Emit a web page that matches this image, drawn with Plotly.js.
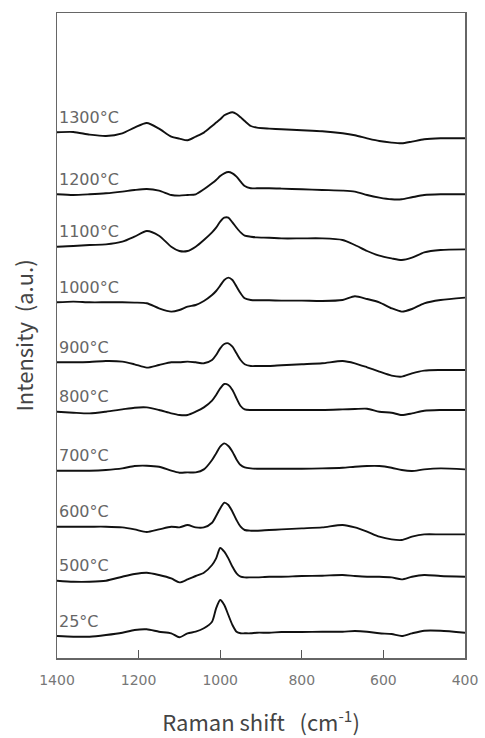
<!DOCTYPE html>
<html>
<head>
<meta charset="utf-8">
<script src="https://cdn.plot.ly/plotly-3.0.1.min.js"></script>
<style>html,body{margin:0;padding:0;background:#fff;}#chart{width:485px;height:738px;}</style>
</head>
<body>
<div id="chart"></div>
<script>
// Raman shift grid (cm-1)
const ramanShift = [1400,1360,1320,1280,1240,1210,1180,1150,1120,1100,1080,1060,1040,1020,1010,1000,990,980,970,960,950,940,925,910,880,850,800,750,700,670,640,610,580,555,530,500,460,400];

// Temperature labels (top to bottom)
const labels = ['1300°C','1200°C','1100°C','1000°C','900°C','800°C','700°C','600°C','500°C','25°C'];

// Vertical offsets of each stacked spectrum (a.u.)
const offsets = [525.7, 463.7, 411.3, 355.7, 295.7, 246.3, 187.3, 131.3, 77.3, 22];

// Intensities relative to each spectrum's baseline (a.u.)
const s1300 = [0,0.3,-2.3,-3.7,-1,4.7,9.3,3.7,-4.3,-6.3,-8,-4.3,-0.3,6.3,9.7,13,17,19,20,18.3,15,11.3,6.3,4.7,3.7,3,2,1,-1,-3,-6,-8.7,-10.3,-11,-9.3,-7,-6,-6];
const s1200 = [0,-0.7,0,1,2.7,4.3,5.3,3.7,-0.7,-1.3,-0.7,0,5,11,14.3,18.3,21,22.3,21,17.7,12.7,8.3,6,6,6,5.7,5,4.3,3.7,2.7,-0.7,-3.3,-5,-5,-3,-0.7,0,0];
const s1100 = [0,0.7,1.7,2.3,5,10,15.7,11,0,-4.3,-4.3,0,6.7,14.3,19,25,29,29,24.3,19,14.3,11,10,9.3,9,8.3,8.3,8.3,6.7,1.7,-4.3,-9,-11.7,-13.3,-11,-5.7,-3.3,-2.7];
const s1000 = [0,0.7,0,0,0,-0.3,-1,-6,-9.3,-7.7,-4.3,-2.7,1.3,7.3,11.3,16.7,22.3,24.7,22.3,15.7,9,4,2.3,2,2,1.7,1.7,1.3,2.3,6,3.3,0,-6,-9.3,-6.7,-1,2.3,4.7];
const s900  = [0,0,0.3,1.3,0.7,-2,-5.3,-2.7,0,0,0.7,0,-1,2.3,7.3,14,18.3,19,15.7,9,2.3,-2,-3.7,-3.7,-3.7,-3,-2,-1,1.3,-1,-5,-9.3,-13.3,-14.3,-11,-8.3,-7.7,-7.7];
const s800  = [0,-1,-1.7,0,2.3,4,4.3,1.7,-1.7,-3.3,-3.3,0,4.3,11,16.7,23.3,27.7,26.7,21.7,13.3,5.7,2.3,1.7,1.7,1.7,1.7,1.7,1.7,2.3,2.7,3,0,-1,-3.3,-1.7,1,1.7,1.7];
const s700  = [0,0,0,0.7,2.3,4.7,5,4,0,-2,-1.7,-1.7,1.3,10.7,17.3,24,27.3,24.7,19,11.3,5.7,3.3,2.3,2,2,2,2,2.3,3,4,4.7,4.7,3,0.7,-0.3,1.3,2.3,1.3];
const s600  = [0,0,0,0,-0.7,-2.7,-5.3,-2.7,0,-0.7,1.7,-0.7,-0.7,4,10.7,18.3,24,21.7,15,6.7,0,-3.3,-4,-4,-3.3,-2.7,-1.7,-0.7,1.7,-0.7,-5,-10,-12.7,-13.3,-10,-7.7,-7.7,-7.7];
const s500  = [0,-1,-1,0,4,6.7,8,5.7,2.3,-1.7,1.3,4.7,8,15.7,22.3,32.7,29,22.3,14,7.3,4,3.3,3.3,3.3,4,4,4.7,5,5.7,4.7,4,4,3.3,1.3,4,5.7,4.7,4];
const s25   = [0,-0.7,-0.7,1,3.3,6,6.7,4.3,2.7,-1.3,2.7,4.3,7.7,14.3,27.7,36,31,21,11,4.3,2.7,2.7,2.7,3.3,3.3,4,4,4.3,4.3,5,4.3,2.7,2,0,2.7,5.3,5.3,3.3];

const spectra = [s1300,s1200,s1100,s1000,s900,s800,s700,s600,s500,s25];

const traces = spectra.map((s, i) => ({
  type: 'scatter',
  mode: 'lines',
  x: ramanShift,
  y: s.map(v => v + offsets[i]),
  line: {color: '#111', width: 1.9, shape: 'spline', smoothing: 0.7},
  hoverinfo: 'skip',
  showlegend: false
}));

const annotations = labels.map((t, i) => ({
  x: 1400, y: offsets[i] + 15, xref: 'x', yref: 'y',
  text: t, showarrow: false, xanchor: 'left', yanchor: 'middle', xshift: 0,
  font: {family: 'DejaVu Sans, sans-serif', size: 16, color: '#666'}
}));

const layout = {
  width: 485, height: 738,
  margin: {l: 57, r: 20, t: 13, b: 80},
  paper_bgcolor: '#fff', plot_bgcolor: '#fff',
  font: {family: 'Noto Sans CJK JP, Noto Sans, sans-serif', color: '#555'},
  xaxis: {
    range: [1400, 400], autorange: false,
    tickvals: [1400, 1200, 1000, 800, 600, 400],
    ticktext: ['1400','1200','1000','800','600','400'],
    ticks: 'inside', ticklen: 8, tickwidth: 1.2, tickcolor: '#555',
    ticklabelstandoff: 9,
    showline: true, linecolor: '#666', linewidth: 1.5, mirror: true,
    showgrid: false, zeroline: false,
    tickfont: {family: 'DejaVu Sans, sans-serif', size: 14, color: '#777'},
    title: {text: 'Raman shift\u00a0\u00a0 (cm<sup>-1</sup>)', font: {size: 22, color: '#444'}, standoff: 28}
  },
  yaxis: {
    range: [0, 645], autorange: false,
    showticklabels: false, ticks: '',
    showline: true, linecolor: '#666', linewidth: 1.5, mirror: true,
    showgrid: false, zeroline: false,
    title: {text: 'Intensity\u00a0 (a.u.)', font: {size: 22, color: '#444'}, standoff: 16}
  },
  annotations: annotations
};

Plotly.newPlot('chart', traces, layout, {displayModeBar: false, staticPlot: true});
</script>
</body>
</html>
